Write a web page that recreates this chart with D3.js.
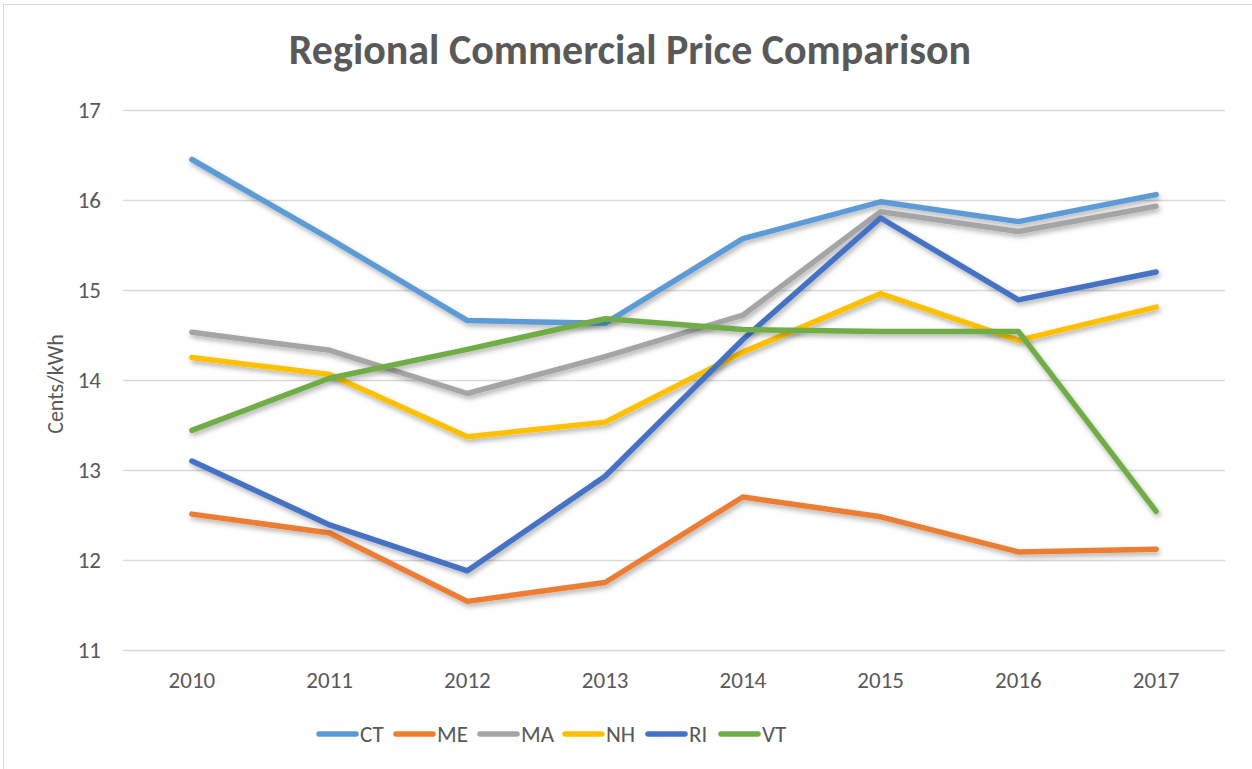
<!DOCTYPE html>
<html>
<head>
<meta charset="utf-8">
<script src="https://cdn.jsdelivr.net/npm/d3@7"></script>
<style>
  html, body { margin: 0; padding: 0; background: #fff; }
  #chart { width: 1252px; height: 769px; }
  text { font-family: Carlito, "Open Sans", "Noto Sans", sans-serif; fill: #595959; }
</style>
</head>
<body>
<div id="chart"></div>
<script>
// 데이터
const years = ["2010", "2011", "2012", "2013", "2014", "2015", "2016", "2017"];
const yTicks = [11, 12, 13, 14, 15, 16, 17];

const ctValues = [16.45, 15.57, 14.66, 14.63, 15.57, 15.98, 15.76, 16.06];
const meValues = [12.51, 12.30, 11.54, 11.75, 12.70, 12.48, 12.09, 12.12];
const maValues = [14.53, 14.33, 13.85, 14.26, 14.72, 15.87, 15.65, 15.93];
const nhValues = [14.25, 14.06, 13.37, 13.53, 14.31, 14.96, 14.44, 14.81];
const riValues = [13.10, 12.39, 11.88, 12.93, 14.45, 15.80, 14.89, 15.20];
const vtValues = [13.44, 14.02, 14.34, 14.68, 14.56, 14.54, 14.54, 12.54];

const seriesNames = ["CT", "ME", "MA", "NH", "RI", "VT"];
const seriesColors = ["#5b9bd5", "#ed7d31", "#a5a5a5", "#ffc000", "#4472c4", "#70ad47"];

const series = [ctValues, meValues, maValues, nhValues, riValues, vtValues].map((vals, i) => ({
    name: seriesNames[i],
    color: seriesColors[i],
    values: vals.map((v, j) => ({ year: years[j], value: v }))
}));

const width = 1252, height = 769;
const margin = { top: 110, right: 27, bottom: 119, left: 123 };

const svg = d3.select("#chart").append("svg")
    .attr("width", width)
    .attr("height", height);

// 그림자 필터
const defs = svg.append("defs");
const shadow = defs.append("filter").attr("id", "shadow")
    .attr("x", "-10%").attr("y", "-10%").attr("width", "120%").attr("height", "130%");
shadow.append("feDropShadow")
    .attr("dx", 1.5).attr("dy", 3).attr("stdDeviation", 2.5)
    .attr("flood-color", "#000").attr("flood-opacity", 0.3);

// 바깥 테두리
svg.append("rect")
    .attr("x", 3.5).attr("y", 4.5)
    .attr("width", width).attr("height", height)
    .attr("fill", "none").attr("stroke", "#d9d9d9");

const xScale = d3.scaleBand()
    .domain(years)
    .range([margin.left, width - margin.right]);

const yScale = d3.scaleLinear()
    .domain([11, 17])
    .range([height - margin.bottom, margin.top]);

// 그리드
svg.append("g")
    .attr("transform", `translate(${margin.left}, 0)`)
    .call(d3.axisLeft(yScale).tickValues(yTicks).tickSize(-(width - margin.left - margin.right)).tickFormat(""))
    .call(g => g.select(".domain").remove())
    .call(g => g.selectAll("line").attr("stroke", "#d9d9d9").attr("stroke-width", 1.3));

// Y축 라벨
svg.append("g")
    .attr("transform", `translate(${margin.left - 22}, 0)`)
    .call(d3.axisLeft(yScale).tickValues(yTicks).tickSize(0).tickPadding(0).tickFormat(d3.format("d")))
    .call(g => g.select(".domain").remove())
    .call(g => g.selectAll("text").style("font-size", "23px").attr("fill", "#595959"));

// X축 라벨
svg.append("g")
    .attr("transform", `translate(0, ${height - margin.bottom + 22})`)
    .call(d3.axisBottom(xScale).tickSize(0).tickPadding(0))
    .call(g => g.select(".domain").remove())
    .call(g => g.selectAll("text").attr("dy", "0.71em").style("font-size", "23px").attr("fill", "#595959"));

// 제목
svg.append("text")
    .attr("x", 630).attr("y", 64)
    .attr("text-anchor", "middle")
    .style("font-size", "42px")
    .style("font-weight", "bold")
    .text("Regional Commercial Price Comparison");

// Y축 제목
svg.append("text")
    .attr("transform", `translate(63, 384) rotate(-90)`)
    .attr("text-anchor", "middle")
    .style("font-size", "22px")
    .text("Cents/kWh");

// 선
const lineGen = d3.line()
    .x(d => xScale(d.year) + xScale.bandwidth() / 2)
    .y(d => yScale(d.value));

svg.append("g").selectAll("path")
    .data(series)
    .enter()
    .append("path")
    .attr("d", d => lineGen(d.values))
    .attr("fill", "none")
    .attr("stroke", d => d.color)
    .attr("stroke-width", 5.5)
    .attr("stroke-linecap", "round")
    .attr("stroke-linejoin", "round")
    .attr("filter", "url(#shadow)");

// 범례
const legendX = [316, 393, 477, 562, 645, 718];
const legend = svg.append("g").selectAll("g")
    .data(series)
    .enter()
    .append("g")
    .attr("transform", (d, i) => `translate(${legendX[i]}, 734)`);

legend.append("line")
    .attr("x1", 3).attr("x2", 40)
    .attr("stroke", d => d.color)
    .attr("stroke-width", 5.5)
    .attr("stroke-linecap", "round");

legend.append("text")
    .attr("x", 44).attr("y", 8)
    .style("font-size", "23px")
    .text(d => d.name);
</script>
</body>
</html>
